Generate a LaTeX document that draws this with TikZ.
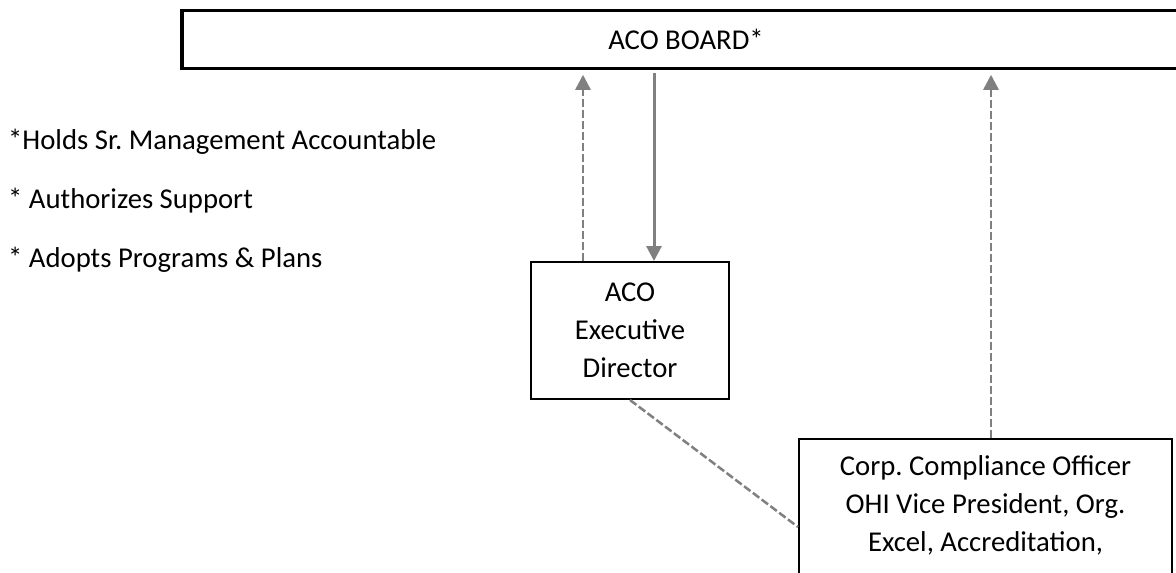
\documentclass[tikz,border=0pt]{standalone}
\usepackage{fontspec}
\setmainfont{Carlito}
\usetikzlibrary{arrows.meta,calc}
\definecolor{arrowgray}{RGB}{128,128,128}
\begin{document}
\frenchspacing
\begin{tikzpicture}[x=1pt,y=-1pt,
  every node/.style={font=\fontsize{28.7}{38}\selectfont},
  boardbox/.style={draw=black,line width=3.5pt,minimum width=1008pt,minimum height=58pt,inner sep=0pt},
  orgbox/.style={draw=black,line width=2pt,align=center,inner sep=0pt},
  notetext/.style={anchor=base west,inner sep=0pt},
  dasharrow/.style={draw=arrowgray,line width=2.5pt,dash pattern=on 8pt off 3pt,-{Triangle[length=15pt,width=15pt]}},
  solidarrow/.style={draw=arrowgray,line width=3pt,-{Triangle[length=15pt,width=15pt]}},
  dashline/.style={draw=arrowgray,line width=2.5pt,dash pattern=on 8pt off 3pt}]
\useasboundingbox (0,0) rectangle (1176,573);
\clip (0,0) rectangle (1176,573);
\fill[white] (0,0) rectangle (1176,573);

\node[boardbox] (board) at (686,39.5) {ACO BOARD*};

\node[notetext] (n1) at (8,149) {*Holds Sr. Management Accountable};
\node[notetext] (n2) at (8,208) {* Authorizes Support};
\node[notetext] (n3) at (8,267) {* Adopts Programs \& Plans};

\node[orgbox,minimum width=198pt,minimum height=137pt] (exec) at (630,330.5) {ACO\\Executive\\Director};

\node[orgbox,anchor=north,minimum width=373pt,text height=94pt,text depth=90pt,inner ysep=18pt] (corp) at (985.5,438)
  {Corp. Compliance Officer\\OHI Vice President, Org.\\Excel, Accreditation,};

\coordinate (xa) at (583,0);
\coordinate (xb) at (654,0);
\coordinate (xc) at (991,0);

\draw[dasharrow,shorten >=4.5pt] (exec.north -| xa) -- (board.south -| xa);
\draw[solidarrow,shorten <=3pt] (board.south -| xb) -- (exec.north -| xb);
\draw[dasharrow,shorten >=4.5pt] (corp.north -| xc) -- (board.south -| xc);
\draw[dashline] (exec.south) -- ($(corp.north west)+(0,89)$);
\end{tikzpicture}
\end{document}
